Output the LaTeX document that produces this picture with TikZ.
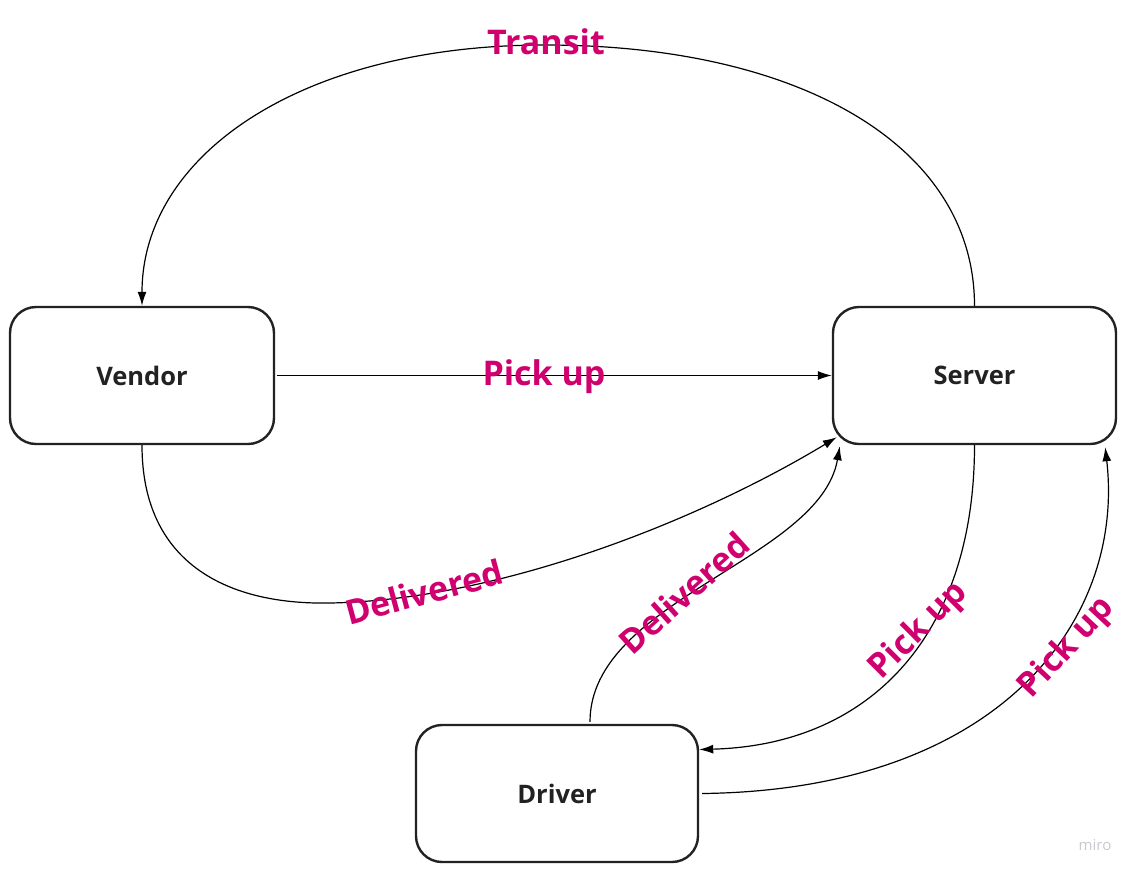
\documentclass[tikz,border=0pt]{standalone}
\usepackage{fontspec}
\setmainfont{Open Sans}
\usetikzlibrary{arrows.meta,calc}
\definecolor{lbl}{RGB}{208,0,111}
\definecolor{ink}{RGB}{34,34,34}
\definecolor{wm}{RGB}{200,200,208}
\begin{document}
\begin{tikzpicture}[x=1pt,y=-1pt,
  box/.style={draw=ink,line width=2.4pt,rounded corners=26pt,minimum width=264pt,minimum height=137pt,inner sep=0pt,font=\fontsize{25.5}{30}\selectfont\bfseries,text=ink},
  conn/.style={draw=black,line width=1.2pt,-{Latex[length=14pt,width=9pt]}},
  lab/.style={font=\fontsize{34}{38}\selectfont\bfseries,text=lbl,inner sep=0pt}]
\useasboundingbox (0,0) rectangle (1140,876);
\node[box] (ven) at (142,375.5) {Vendor};
\node[box,minimum width=283pt] (srv) at (974.5,375.5) {Server};
\node[box,minimum width=282pt] (drv) at (557,793.5) {Driver};
% Transit
\draw[conn] (srv.north) .. controls ($(srv.north)+(0,-160)$) and (800,45) .. (545,45)
  .. controls (300,45) and ($(ven.north)+(0,-150)$) .. (ven.north);
\node[lab] (t1) at (546,42) {Transit};
% Pick up straight
\draw[conn] ([xshift=2pt]ven.east) -- (srv.west);
\node[lab] (t2) at (544,377) {Pick up};
% Delivered 1
\draw[conn] (ven.south) .. controls ($(ven.south)+(0,120)$) and (230,605) .. (330,603)
  .. controls (500,600) and (700,520) .. ($(srv.south west)+(5,-8)$);
\node[lab,rotate=15] (t3) at (424,592) {Delivered};
% Delivered 2
\draw[conn] ($(drv.north)+(33,-2)$) .. controls (590,600) and (820,560) .. ($(srv.south west)+(8,1)$);
\node[lab,rotate=42] (t4) at (684,593) {Delivered};
% Pick up server -> driver
\draw[conn] (srv.south) .. controls ($(srv.south)+(0,190)$) and (870,745) .. ([yshift=44pt]drv.east);
\node[lab,rotate=45] (t5) at (919,631) {Pick up};
% Pick up driver -> server
\draw[conn] ([xshift=3pt]drv.east) .. controls (1000,790) and (1125,620) .. ($(srv.south east)+(-12,2)$);
\node[lab,rotate=47] (t6) at (1067,648) {Pick up};
\node[text=wm,font=\fontsize{15}{18}\selectfont] (miro) at (1095,845) {miro};
\end{tikzpicture}
\end{document}
